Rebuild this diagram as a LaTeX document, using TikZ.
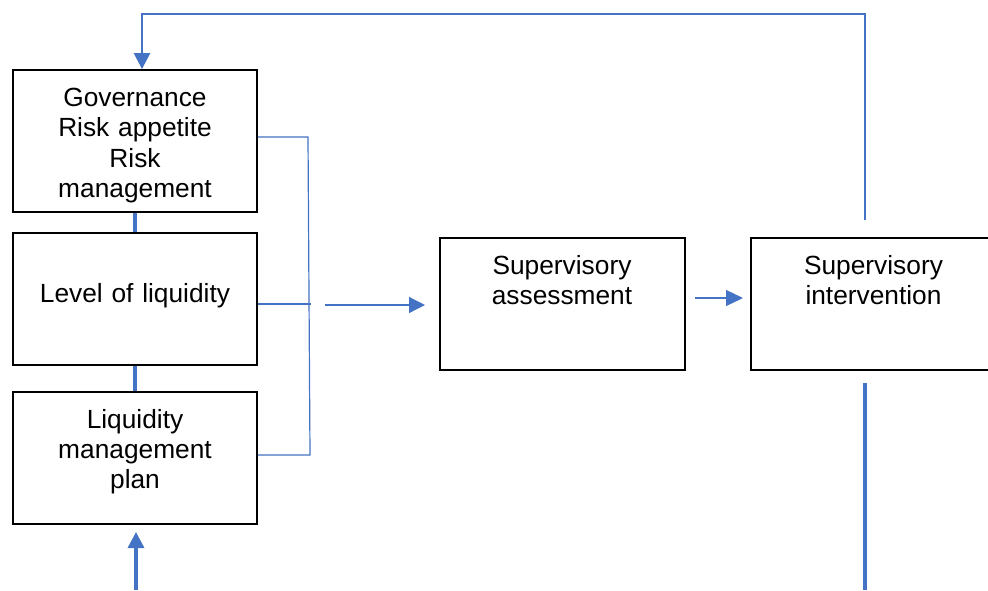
\documentclass[tikz,border=0pt]{standalone}
\usepackage{fontspec}
\setmainfont{Liberation Sans}
\usetikzlibrary{arrows.meta}
\definecolor{offblue}{HTML}{4472C4}
\tikzset{
  boxnode/.style={draw=black, line width=1.8pt, minimum width=244pt, minimum height=132pt, inner sep=0pt},
  txt/.style={anchor=base, text width=240pt, align=center, inner sep=0pt, font=\fontsize{26.3}{30.2}\selectfont},
  thinlink/.style={draw=offblue, line width=1.2pt},
  loopline/.style={draw=offblue, line width=2.5pt},
  stub/.style={draw=offblue, line width=3.8pt},
  bigtip/.style={-{Triangle[length=16pt,width=16pt]}},
}
\begin{document}
\begin{tikzpicture}[x=1pt,y=-1pt]
\useasboundingbox (0,0) rectangle (988,590);
% boxes
\node[boxnode, minimum height=142pt] (b1) at (135,141) {};
\node[boxnode] (b2) at (135,299) {};
\node[boxnode] (b3) at (135,458) {};
\node[boxnode, minimum width=245pt] (b4) at (562.5,304) {};
\node[boxnode, minimum width=245pt] (b5) at (873.5,304) {};
% texts
\node[txt] (t1) at (135,106.7) {Governance\\Risk appetite\\Risk\\management};
\node[txt] (t2) at (135,302.5) {Level of liquidity};
\node[txt] (t3) at (135,428) {Liquidity\\management\\plan};
\node[txt] (t4) at (562,274.5) {Supervisory\\assessment};
\node[txt] (t5) at (873.5,274.5) {Supervisory\\intervention};
% stubs between left boxes
\draw[stub] (b1.south) -- (b2.north);
\draw[stub] (b2.south) -- (b3.north);
% bracket
\coordinate (br1) at (308,137);
\coordinate (br2) at (311,304);
\coordinate (br3) at (310,455);
\draw[thinlink] ([yshift=4pt]b1.east) -- (br1) -- (br3) -- ([yshift=3pt]b3.east);
\draw[thinlink] ([yshift=-5pt]b2.east) -- (br2);
% arrow to assessment
\coordinate (a1s) at (325,305);
\coordinate (a1e) at (425,305);
\draw[thinlink, bigtip] (a1s) -- (a1e);
% arrow assessment -> intervention
\coordinate (a2s) at (695,298);
\coordinate (a2e) at (743,298);
\draw[thinlink, -{Triangle[length=17pt,width=16pt]}] (a2s) -- (a2e);
% feedback loop on top
\coordinate (ls) at (865,220);
\coordinate (lt) at (142,14);
\draw[loopline, bigtip] (ls) |- (lt) -- (lt |- b1.north);
% bottom right line
\coordinate (rb1) at (865,383);
\coordinate (rb2) at (865,590);
\draw[stub, line width=3.3pt] (rb1) -- (rb2);
% bottom arrow
\coordinate (ba) at (136,590);
\coordinate (bt) at (136,532);
\draw[stub, line width=3.3pt, bigtip] (ba) -- (bt);
\end{tikzpicture}
\end{document}
